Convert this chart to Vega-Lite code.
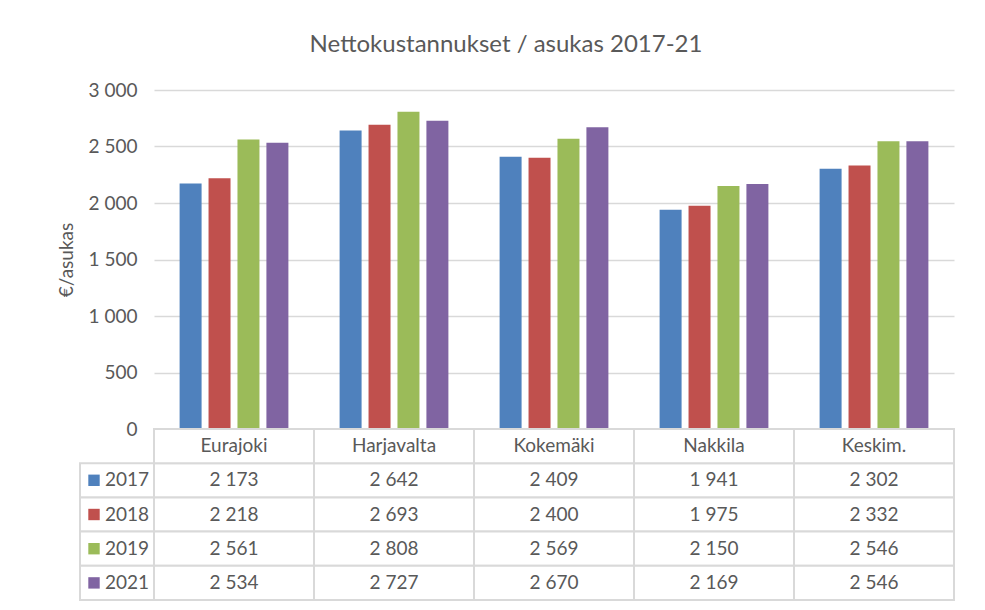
{
  "$schema": "https://vega.github.io/schema/vega-lite/v6.json",
  "background": "white",
  "padding": {"left": 57, "top": 33, "right": 31, "bottom": 4},
  "title": {"text": "Nettokustannukset / asukas 2017-21", "fontSize": 24, "fontWeight": "normal", "color": "#595959", "font": "Lato", "anchor": "middle", "offset": 24},
  "datasets": {
    "d": [
      {"kunta": "Eurajoki", "vuosi": "2017", "arvo": 2173},
      {"kunta": "Eurajoki", "vuosi": "2018", "arvo": 2218},
      {"kunta": "Eurajoki", "vuosi": "2019", "arvo": 2561},
      {"kunta": "Eurajoki", "vuosi": "2021", "arvo": 2534},
      {"kunta": "Harjavalta", "vuosi": "2017", "arvo": 2642},
      {"kunta": "Harjavalta", "vuosi": "2018", "arvo": 2693},
      {"kunta": "Harjavalta", "vuosi": "2019", "arvo": 2808},
      {"kunta": "Harjavalta", "vuosi": "2021", "arvo": 2727},
      {"kunta": "Kokemäki", "vuosi": "2017", "arvo": 2409},
      {"kunta": "Kokemäki", "vuosi": "2018", "arvo": 2400},
      {"kunta": "Kokemäki", "vuosi": "2019", "arvo": 2569},
      {"kunta": "Kokemäki", "vuosi": "2021", "arvo": 2670},
      {"kunta": "Nakkila", "vuosi": "2017", "arvo": 1941},
      {"kunta": "Nakkila", "vuosi": "2018", "arvo": 1975},
      {"kunta": "Nakkila", "vuosi": "2019", "arvo": 2150},
      {"kunta": "Nakkila", "vuosi": "2021", "arvo": 2169},
      {"kunta": "Keskim.", "vuosi": "2017", "arvo": 2302},
      {"kunta": "Keskim.", "vuosi": "2018", "arvo": 2332},
      {"kunta": "Keskim.", "vuosi": "2019", "arvo": 2546},
      {"kunta": "Keskim.", "vuosi": "2021", "arvo": 2546}
    ]
  },
  "columns": 2,
  "spacing": 0,
  "bounds": "flush",
  "concat": [
    {
      "width": 74, "height": 339,
      "data": {"values": [{"a": 1}]},
      "mark": {"type": "text", "text": ""}
    },
    {
      "width": 800, "height": 339,
      "data": {"name": "d"},
      "mark": {"type": "bar"},
      "encoding": {
        "x": {"field": "kunta", "type": "nominal", "sort": ["Eurajoki", "Harjavalta", "Kokemäki", "Nakkila", "Keskim."], "scale": {"paddingInner": 0.32, "paddingOuter": 0.16}, "axis": null},
        "xOffset": {"field": "vuosi", "type": "nominal", "sort": ["2017", "2018", "2019", "2021"], "scale": {"paddingInner": 0.24, "paddingOuter": 0}},
        "y": {"field": "arvo", "type": "quantitative", "scale": {"domain": [0, 3000]},
          "axis": {"values": [0, 500, 1000, 1500, 2000, 2500, 3000], "format": ",.0f", "title": "€/asukas", "titleFontSize": 19, "titleFontWeight": "normal", "titlePadding": 12, "labelFontSize": 19, "labelPadding": 17, "ticks": false, "domain": false, "grid": true, "gridColor": "#d9d9d9", "gridWidth": 1.5}},
        "color": {"field": "vuosi", "type": "nominal", "scale": {"domain": ["2017", "2018", "2019", "2021"], "range": ["#4F81BD", "#C0504D", "#9BBB59", "#8064A2"]}, "legend": null}
      }
    },
    {
      "width": 74, "height": 171,
      "data": {"name": "d"},
      "transform": [{"filter": "datum.kunta == 'Eurajoki'"}],
      "encoding": {
        "y": {"field": "vuosi", "type": "nominal", "scale": {"domain": ["k", "2017", "2018", "2019", "2021"], "paddingInner": 0, "paddingOuter": 0}, "axis": null}
      },
      "layer": [
        {"mark": {"type": "rect", "fill": "white", "stroke": "#d9d9d9", "strokeWidth": 2}},
        {"mark": {"type": "point", "shape": "square", "filled": true, "size": 130, "opacity": 1, "xOffset": -23},
          "encoding": {"color": {"field": "vuosi", "type": "nominal", "scale": {"domain": ["2017", "2018", "2019", "2021"], "range": ["#4F81BD", "#C0504D", "#9BBB59", "#8064A2"]}, "legend": null}}},
        {"mark": {"type": "text", "align": "left", "baseline": "middle", "dx": -12, "fontSize": 19, "color": "#595959"},
          "encoding": {"text": {"field": "vuosi", "type": "nominal"}}}
      ]
    },
    {
      "width": 800, "height": 171,
      "data": {"name": "d"},
      "encoding": {
        "x": {"field": "kunta", "type": "nominal", "sort": ["Eurajoki", "Harjavalta", "Kokemäki", "Nakkila", "Keskim."], "scale": {"paddingInner": 0, "paddingOuter": 0}, "axis": null}
      },
      "layer": [
        {"mark": {"type": "rect", "fill": "white", "stroke": "#d9d9d9", "strokeWidth": 2},
          "encoding": {"y": {"field": "vuosi", "type": "nominal", "scale": {"domain": ["k", "2017", "2018", "2019", "2021"], "paddingInner": 0, "paddingOuter": 0}, "axis": null}}},
        {"mark": {"type": "text", "baseline": "middle", "fontSize": 19, "color": "#595959"},
          "encoding": {"y": {"field": "vuosi", "type": "nominal"}, "text": {"field": "arvo", "type": "quantitative", "format": ",.0f"}}},
        {"transform": [{"filter": "datum.vuosi == '2017'"}],
          "mark": {"type": "rect", "fill": "white", "stroke": "#d9d9d9", "strokeWidth": 2},
          "encoding": {"y": {"datum": "k", "type": "nominal"}}},
        {"transform": [{"filter": "datum.vuosi == '2017'"}],
          "mark": {"type": "text", "baseline": "middle", "fontSize": 19, "color": "#595959"},
          "encoding": {"y": {"datum": "k", "type": "nominal"}, "text": {"field": "kunta", "type": "nominal"}}}
      ]
    }
  ],
  "config": {
    "font": "Lato",
    "view": {"stroke": null},
    "locale": {"number": {"decimal": ",", "thousands": " ", "grouping": [3], "currency": ["", " €"]}},
    "axis": {"labelColor": "#595959", "titleColor": "#595959", "labelFont": "Lato", "titleFont": "Lato"}
  }
}
